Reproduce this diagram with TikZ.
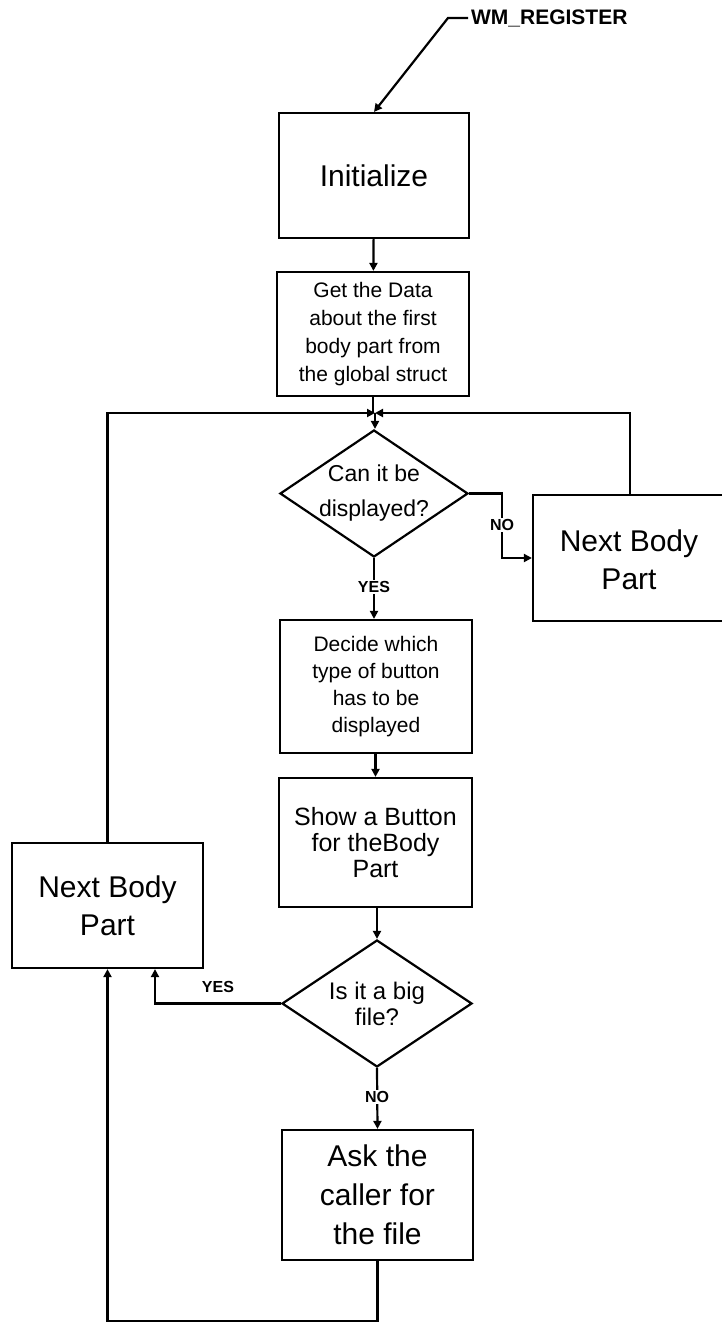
\documentclass[tikz,border=0pt]{standalone}
\usepackage{fontspec}
\setmainfont{Liberation Sans}
\usetikzlibrary{shapes.geometric,arrows.meta}
\begin{document}
\begin{tikzpicture}[x=1pt,y=-1pt,
  line width=2.2pt,
  box/.style={draw, rectangle, inner sep=0pt, align=center},
  dec/.style={draw, diamond, inner sep=0pt},
  label/.style={inner sep=0pt, align=center},
  flow/.style={-{Triangle[length=8pt,width=8pt]}},
  tag/.style={font=\fontsize{16}{16}\selectfont\bfseries, fill=white, inner sep=1.5pt},
]
\useasboundingbox (0,0) rectangle (722,1322);

% entry message
\node[anchor=west, inner sep=2pt, font=\fontsize{21}{21}\selectfont\bfseries] (wm) at (468,18) {WM\_REGISTER};

% main column
\node[box, minimum width=190pt, minimum height=125pt, font=\fontsize{30}{38}\selectfont] (init) at (374,175.5) {Initialize};
\node[box, minimum width=192pt, minimum height=124pt, font=\fontsize{21}{28}\selectfont] (gd) at (373,334)
  {Get the Data\\about the first\\body part from\\the global struct};

% first decision: outline and its text
\node[dec, minimum width=188pt, minimum height=127pt] (d1) at (374,493.5) {};
\node[label, font=\fontsize{23}{35}\selectfont] (d1t) at (d1.center) {Can it be\\displayed?};

\node[box, minimum width=192pt, minimum height=133pt, font=\fontsize{21}{27}\selectfont] (dc) at (376,686.5)
  {Decide which\\type of button\\has to be\\displayed};
\node[box, minimum width=193pt, minimum height=129pt, font=\fontsize{25}{26}\selectfont] (sh) at (375.5,842.5)
  {Show a Button\\for theBody\\Part};

% second decision: outline and its text
\node[dec, minimum width=190pt, minimum height=127pt] (d2) at (377,1003.5) {};
\node[label, font=\fontsize{24}{26}\selectfont] (d2t) at (d2.center) {Is it a big\\file?};

\node[box, minimum width=191pt, minimum height=130pt, font=\fontsize{30}{39}\selectfont] (ask) at (377.5,1195)
  {Ask the\\caller for\\the file};

% side boxes (the right one runs past the page edge)
\node[box, minimum width=198pt, minimum height=126pt] (rb) at (632,558) {};
\node[label, font=\fontsize{30}{38}\selectfont] (rbt) at (629,560) {Next Body\\Part};
\node[box, minimum width=191pt, minimum height=125pt, font=\fontsize{30}{38}\selectfont] (lb) at (107.5,905.5) {Next Body\\Part};

% connectors
\coordinate (wk) at (448,18);
\draw[flow] (wm.west) -- (wk) -- (init.north);
\draw[flow] (init) -- (gd);

\coordinate (m) at (375,413);
\draw (gd.south) -- (gd.south |- m);
\draw[flow] ([xshift=-2pt]rb.north) |- (m);
\draw[flow] (lb.north) |- (m);
\draw[flow] (m) -- (m |- d1.north);

\coordinate (n1) at (502,493.5);
\coordinate (n2) at (502,558);
\draw[flow] (d1.east) -- (n1) -- (n2) -- (rb.west);
\node[tag] (no1) at (502,525) {NO};

\draw[flow] (d1.south) -- (dc.north -| d1.south);
\node[tag] (yes1) at (374,587) {YES};

\draw[flow] (dc.south -| sh.north) -- (sh.north);
\draw[flow] (sh.south -| d2.north) -- (d2.north);

\draw[flow] (d2.west) -| ([xshift=47.5pt]lb.south);
\node[font=\fontsize{16}{16}\selectfont\bfseries] (yes2) at (218,987) {YES};

\draw[flow] (d2.south) -- (ask.north);
\node[tag] (no2) at (377,1097) {NO};

\draw[flow] (ask.south) -- ++(0,60) -| (lb.south);
\end{tikzpicture}
\end{document}
